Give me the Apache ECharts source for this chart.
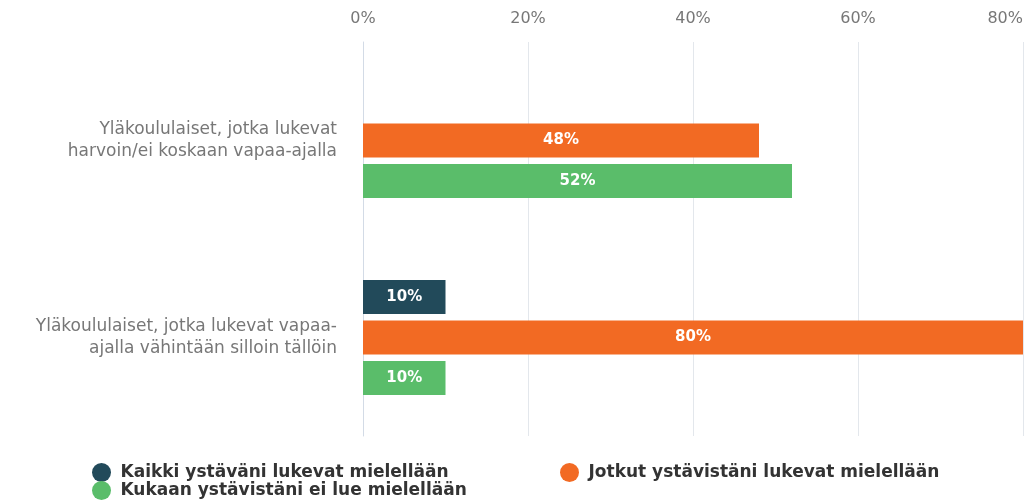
<!DOCTYPE html>
<html>
<head>
<meta charset="utf-8">
<script src="https://cdn.jsdelivr.net/npm/echarts@6/dist/echarts.min.js"></script>
<style>
  html, body { margin: 0; padding: 0; background: #fff; }
  #chart { width: 1024px; height: 502px; }
</style>
</head>
<body>
<div id="chart"></div>
<script>
const categories = [
  'Yläkoululaiset, jotka lukevat\nharvoin/ei koskaan vapaa-ajalla',
  'Yläkoululaiset, jotka lukevat vapaa-\najalla vähintään silloin tällöin'
]
const seriesNames = [
  'Kaikki ystäväni lukevat mielellään',
  'Jotkut ystävistäni lukevat mielellään',
  'Kukaan ystävistäni ei lue mielellään'
]
const allFriends = [null, 10]
const someFriends = [48, 80]
const noFriends = [52, 10]
const tickValues = [0, 20, 40, 60, 80]

const colors = ['#224a5a', '#f26a23', '#5abd6a']
const font = 'DejaVu Sans, sans-serif'

const chart = echarts.init(document.getElementById('chart'))

const barLabel = {
  show: true,
  position: 'inside',
  formatter: p => p.value == null ? '' : p.value + '%',
  color: '#fff',
  fontWeight: 'bold',
  fontSize: 15,
  fontFamily: font
}

const makeSeries = (name, data, color) => ({
  name,
  type: 'bar',
  data,
  barWidth: 34,
  barGap: '19%',
  itemStyle: { color },
  label: barLabel
})

// one legend per item so they sit like the original (2 rows left, 1 right)
const makeLegend = (name, left, top) => ({
  left,
  top,
  icon: 'circle',
  itemWidth: 22,
  itemHeight: 19,
  data: [name],
  textStyle: {
    color: '#333',
    fontSize: 17,
    fontWeight: 'bold',
    fontFamily: font,
    padding: [0, 0, 0, 3]
  }
})

const option = {
  backgroundColor: '#fff',
  animation: false,
  grid: { left: 363, right: 1, top: 42, bottom: 66, outerBoundsMode: 'none' },
  legend: [
    makeLegend(seriesNames[0], 87, 458),
    makeLegend(seriesNames[2], 87, 476),
    makeLegend(seriesNames[1], 555, 458)
  ],
  xAxis: {
    type: 'value',
    position: 'top',
    min: 0,
    max: 80,
    interval: 20,
    axisLine: { show: false },
    axisTick: { show: false },
    axisLabel: {
      color: '#777',
      fontSize: 16,
      margin: 15,
      alignMaxLabel: 'right',
      fontFamily: font,
      formatter: v => tickValues.includes(v) ? v + '%' : ''
    },
    splitLine: { lineStyle: { color: '#e3e7ec', width: 1 } }
  },
  yAxis: {
    type: 'category',
    inverse: true,
    data: categories,
    axisLine: { show: true, lineStyle: { color: '#d3dbe6' } },
    axisTick: { show: false },
    axisLabel: {
      color: '#777',
      fontSize: 17,
      lineHeight: 22,
      margin: 26,
      padding: [8, 0, 0, 0],
      align: 'right',
      fontFamily: font
    }
  },
  series: [
    makeSeries(seriesNames[0], allFriends, colors[0]),
    makeSeries(seriesNames[1], someFriends, colors[1]),
    makeSeries(seriesNames[2], noFriends, colors[2])
  ]
}

chart.setOption(option)
</script>
</body>
</html>
